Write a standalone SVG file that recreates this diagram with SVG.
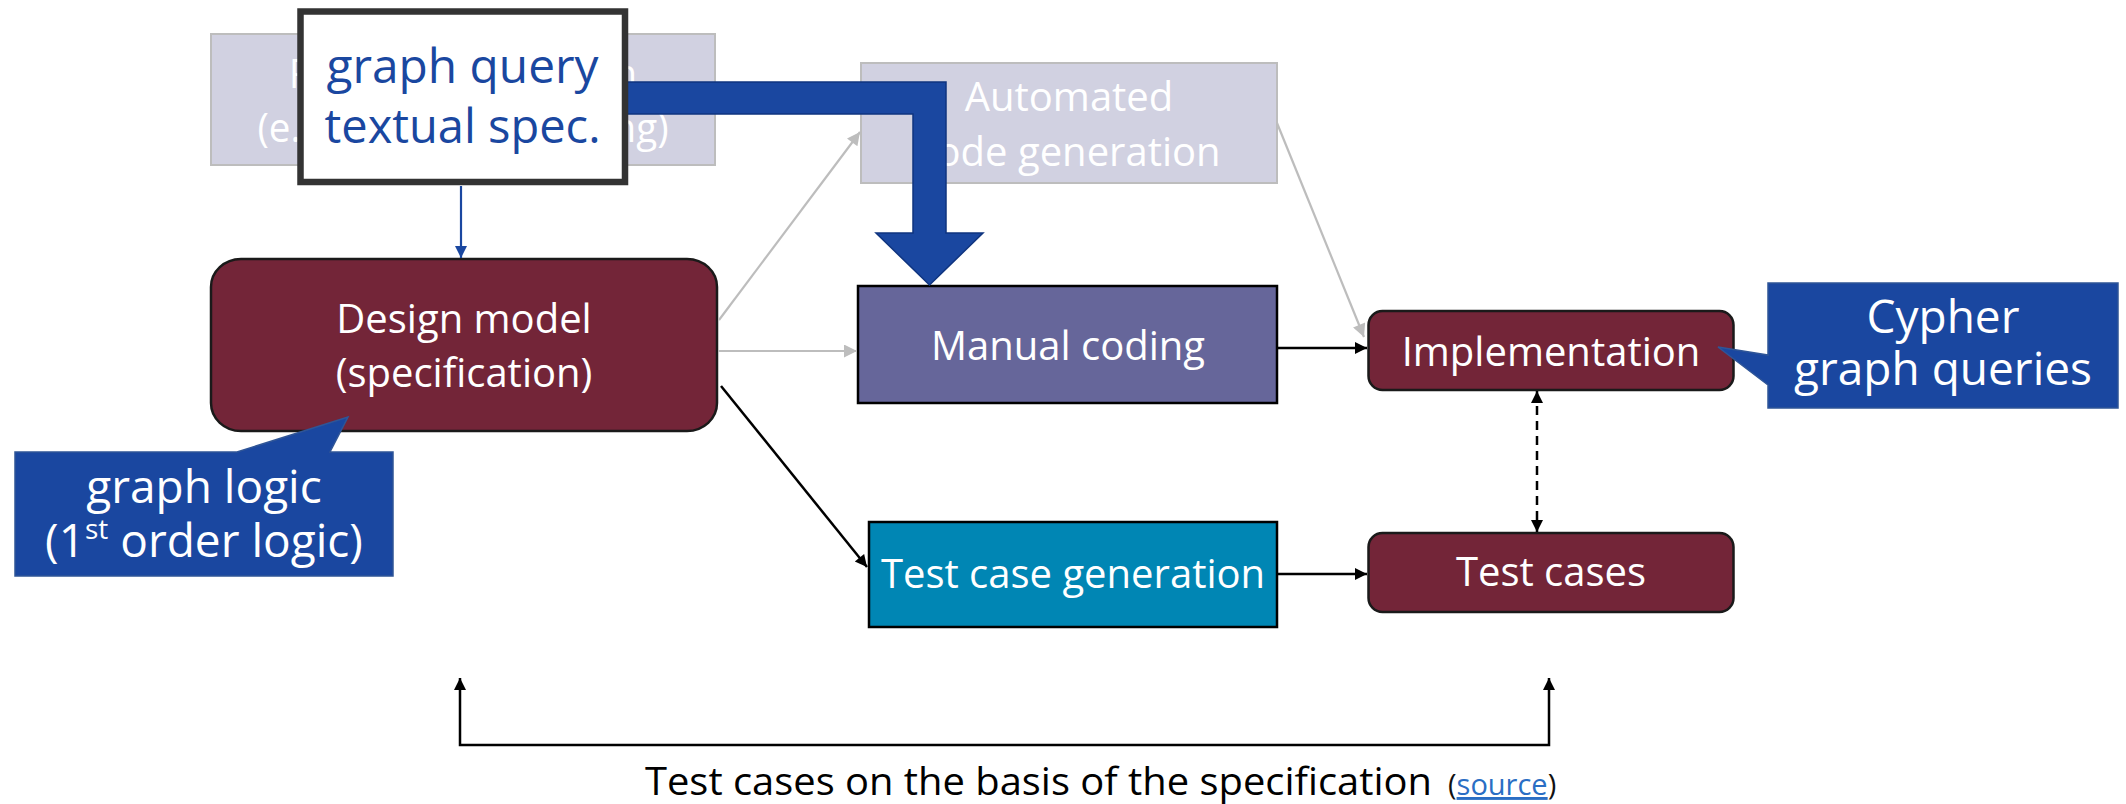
<svg xmlns="http://www.w3.org/2000/svg" width="2126" height="804" viewBox="0 0 2126 804">
<style>
  text { font-family: "Open Sans", "Noto Sans", "DejaVu Sans", sans-serif; }
  .node-text { fill: #ffffff; font-size: 40px; text-anchor: middle; }
  .faded { fill: #d1d1e1; stroke: #bdbdbd; stroke-width: 2; }
  .maroon { fill: #732538; stroke: #1a1a1a; stroke-width: 2.5; }
  .callout { fill: #1a47a0; stroke: #2f5597; stroke-width: 1.5; }
  .callout-text { fill: #ffffff; font-size: 46px; text-anchor: middle; }
  .gray-line { stroke: #bdbdbd; stroke-width: 2.2; fill: none; }
  .black-line { stroke: #000000; stroke-width: 2.5; fill: none; }
</style>
<defs>
  <marker id="ah-black" viewBox="0 0 10 10" refX="10" refY="5" markerWidth="15" markerHeight="12" markerUnits="userSpaceOnUse" orient="auto-start-reverse">
    <path d="M0,0 L10,5 L0,10 z" fill="#000000"/>
  </marker>
  <marker id="ah-gray" viewBox="0 0 10 10" refX="10" refY="5" markerWidth="17" markerHeight="13" markerUnits="userSpaceOnUse" orient="auto-start-reverse">
    <path d="M0,0 L10,5 L0,10 z" fill="#bdbdbd"/>
  </marker>
  <marker id="ah-blue" viewBox="0 0 10 10" refX="10" refY="5" markerWidth="17" markerHeight="12" markerUnits="userSpaceOnUse" orient="auto-start-reverse">
    <path d="M0,0 L10,5 L0,10 z" fill="#1a47a0"/>
  </marker>
</defs>
<rect x="0" y="0" width="2126" height="804" fill="#ffffff"/>

<g id="node-requirements">
  <rect class="faded" x="211" y="34" width="504" height="131"/>
  <text class="node-text" x="463" y="88" textLength="348" lengthAdjust="spacingAndGlyphs">Requirement design</text>
  <text class="node-text" x="463" y="142" textLength="411" lengthAdjust="spacingAndGlyphs">(e.g. domain modeling)</text>
</g>

<g id="node-automated">
  <rect class="faded" x="861" y="63" width="416" height="120"/>
  <text class="node-text" x="1069" y="111">Automated</text>
  <text class="node-text" x="1069" y="166">code generation</text>
</g>

<g id="node-design-model">
  <rect class="maroon" x="211" y="259" width="506" height="172" rx="30" ry="28"/>
  <text class="node-text" x="464" y="333">Design model</text>
  <text class="node-text" x="464" y="387">(specification)</text>
</g>

<g id="node-manual-coding">
  <rect x="858" y="286" width="419" height="117" fill="#66669a" stroke="#000000" stroke-width="2.5"/>
  <text class="node-text" x="1068" y="360">Manual coding</text>
</g>

<g id="node-test-case-generation">
  <rect x="869" y="522" width="408" height="105" fill="#0086b4" stroke="#000000" stroke-width="2.5"/>
  <text class="node-text" x="1073" y="588">Test case generation</text>
</g>

<g id="node-implementation">
  <rect class="maroon" x="1368.5" y="311" width="365" height="79" rx="14"/>
  <text class="node-text" x="1551" y="366">Implementation</text>
</g>

<g id="node-test-cases">
  <rect class="maroon" x="1368.5" y="533" width="365" height="79" rx="14"/>
  <text class="node-text" x="1551" y="586">Test cases</text>
</g>

<g id="connectors">
  <line class="gray-line" x1="719" y1="320" x2="860" y2="132" marker-end="url(#ah-gray)"/>
  <line class="gray-line" x1="718" y1="351" x2="857" y2="351" marker-end="url(#ah-gray)"/>
  <line class="black-line" x1="721" y1="386" x2="867" y2="567" marker-end="url(#ah-black)"/>
  <line class="gray-line" x1="1277" y1="123" x2="1364" y2="337" marker-end="url(#ah-gray)"/>
  <line class="black-line" x1="1277" y1="348" x2="1367" y2="348" marker-end="url(#ah-black)"/>
  <line class="black-line" x1="1277" y1="574" x2="1367" y2="574" marker-end="url(#ah-black)"/>
  <line class="black-line" x1="1537" y1="391" x2="1537" y2="532" stroke-width="2.2" stroke-dasharray="9 6" marker-start="url(#ah-black)" marker-end="url(#ah-black)"/>
  <path class="black-line" d="M460,678 V745 H1549 V678" marker-start="url(#ah-black)" marker-end="url(#ah-black)"/>
  <line x1="461" y1="186" x2="461" y2="258" stroke="#1a47a0" stroke-width="2.2" marker-end="url(#ah-blue)"/>
  <polygon id="big-arrow" points="615,82 946,82 946,233 983,233 929.5,285 876,233 913,233 913,114 615,114" fill="#1a47a0" stroke="#0f347f" stroke-width="1.5"/>
</g>

<g id="node-graph-query">
  <rect x="300.5" y="11.5" width="324.5" height="170.5" fill="#ffffff" stroke="#333333" stroke-width="6.5"/>
  <text x="462.5" y="83" font-size="48" fill="#1a47a0" text-anchor="middle" textLength="272" lengthAdjust="spacingAndGlyphs">graph query</text>
  <text x="462.5" y="143" font-size="48" fill="#1a47a0" text-anchor="middle" textLength="276" lengthAdjust="spacingAndGlyphs">textual spec.</text>
</g>

<g id="callout-graph-logic">
  <path class="callout" d="M15,452 H237 L348,417 L330,452 H393 V576 H15 Z"/>
  <text class="callout-text" x="204" y="503">graph logic</text>
  <text class="callout-text" x="204" y="557"><tspan>(1</tspan><tspan font-size="28" dy="-18">st</tspan><tspan dy="18"> order logic)</tspan></text>
</g>

<g id="callout-cypher">
  <path class="callout" d="M1768,283 H2118 V408 H1768 V385 L1718,347 L1768,355 Z"/>
  <text class="callout-text" x="1943" y="333">Cypher</text>
  <text class="callout-text" x="1943" y="385">graph queries</text>
</g>

<g id="caption">
  <text x="645" y="795" font-size="38" fill="#000000" textLength="787" lengthAdjust="spacingAndGlyphs">Test cases on the basis of the specification</text>
  <text x="1448" y="795" font-size="29" fill="#111111"><tspan>(</tspan><tspan fill="#2a6ec4" text-decoration="underline">source</tspan><tspan>)</tspan></text>
</g>
</svg>
